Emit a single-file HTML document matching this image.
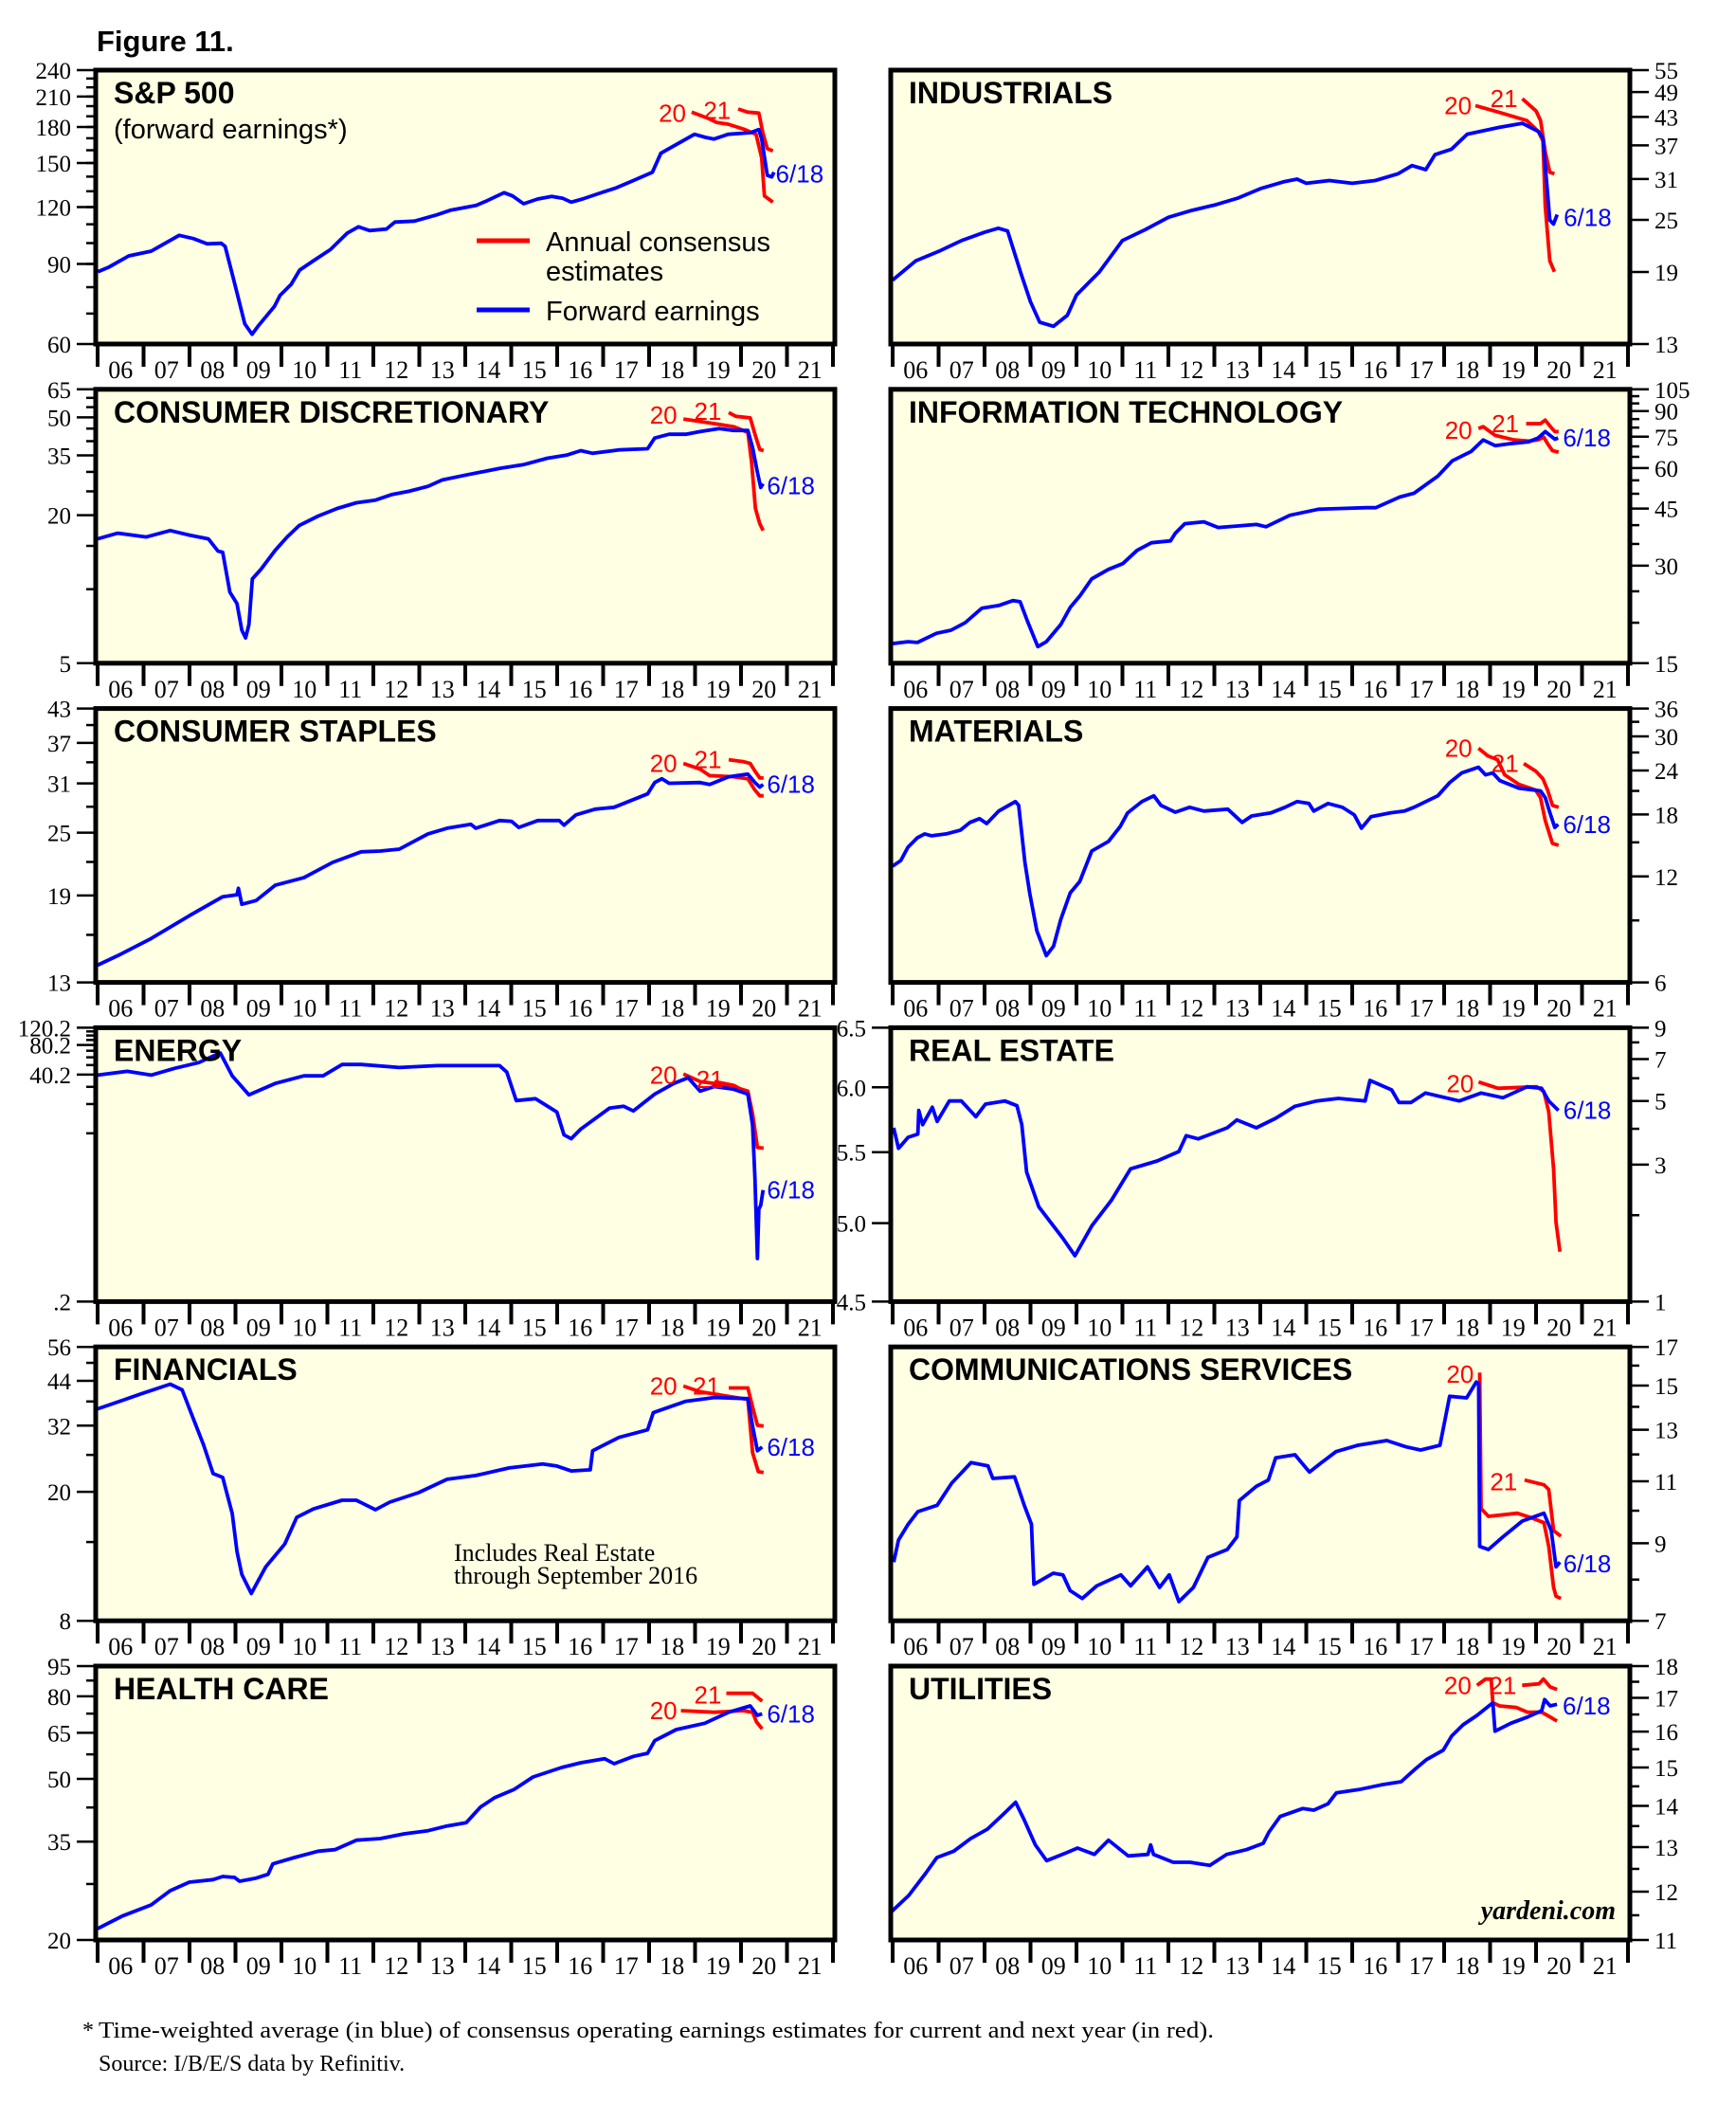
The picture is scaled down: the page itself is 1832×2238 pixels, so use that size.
<!DOCTYPE html>
<html><head><meta charset="utf-8">
<style>
html,body{margin:0;padding:0;background:#fff;}
svg{display:block;}
.ax{font-family:"Liberation Serif",serif;font-size:25px;fill:#000;}
.yr{font-family:"Liberation Serif",serif;font-size:26px;fill:#000;}
.tt{font-family:"Liberation Sans",sans-serif;font-weight:bold;font-size:32px;fill:#000;}
.lb{font-family:"Liberation Sans",sans-serif;font-size:26px;}
.lg{font-family:"Liberation Sans",sans-serif;font-size:29px;fill:#000;}
</style></head>
<body>
<svg id="s" xmlns="http://www.w3.org/2000/svg" width="1832" height="2238" viewBox="0 0 1832 2238">
<text x="102" y="54" class="tt" style="font-size:31px">Figure 11.</text>
<text x="87" y="2150" style="font-family:'Liberation Serif',serif;font-size:24px">*</text>
<text x="104" y="2150" textLength="1177" lengthAdjust="spacingAndGlyphs" style="font-family:'Liberation Serif',serif;font-size:24px">Time-weighted average (in blue) of consensus operating earnings estimates for current and next year (in red).</text>
<text x="104" y="2185" style="font-family:'Liberation Serif',serif;font-size:24px">Source: I/B/E/S data by Refinitiv.</text>
</svg>
<script>
const NS="http://www.w3.org/2000/svg", S=document.getElementById('s');
function el(t,a,txt){const e=document.createElementNS(NS,t);for(const k in a)e.setAttribute(k,a[k]);if(txt!==undefined)e.textContent=txt;S.appendChild(e);return e;}
const H=289, W=780;
function lg(v,a,b){return Math.log(v/a)/Math.log(b/a);}
function panel(p){
  const x0=p.col?940:101, x1=x0+W, top=74+p.row*336.8, bot=top+H;
  el('rect',{x:x0,y:top,width:W,height:H,fill:'#FFFFE3',stroke:'none'});
  let cv;
  if(p.z){const z=p.z;cv=pt=>[z.cx+pt[0]/z.sx, z.cy+pt[1]/z.sy];}
  else{const ix=x0+2;cv=pt=>[ix+(pt[0]-2006)*48.5, top+pt[1]*1.438];}
  const cid='c'+p.row+'_'+p.col;
  const cp=el('clipPath',{id:cid});const r=document.createElementNS(NS,'rect');
  r.setAttribute('x',x0+2);r.setAttribute('y',top+2);r.setAttribute('width',W-4);r.setAttribute('height',H-4);cp.appendChild(r);
  function line(arr,col){if(!arr)return;const d=arr.map(cv).map((q,i)=>(i?'L':'M')+q[0].toFixed(1)+' '+q[1].toFixed(1)).join(' ');
    el('path',{d:d,fill:'none',stroke:col,'stroke-width':3.8,'stroke-linejoin':'round','clip-path':'url(#'+cid+')'});}
  line(p.r20,'#ff0000');line(p.r21,'#ff0000');line(p.b,'#0000ff');
  if(p.L){const L=p.L;
    if(L[0]){const q=cv(L[0]);el('text',{x:q[0],y:q[1]+9,class:'lb',fill:'#ff0000','text-anchor':'end'},'20');}
    if(L[1]){const q=cv(L[1]);el('text',{x:q[0],y:q[1]+9,class:'lb',fill:'#ff0000','text-anchor':L[1][2]||'end'},'21');}
    if(L[2]){const q=cv(L[2]);el('text',{x:q[0],y:q[1]+9,class:'lb',fill:'#0000ff'},'6/18');}
  }
  el('rect',{x:x0,y:top,width:W,height:H,fill:'none',stroke:'#000','stroke-width':5});
  el('text',{x:x0+19,y:top+35,class:'tt'},p.t);
  for(let k=0;k<=16;k++){const x=x0+2+k*48.5;el('line',{x1:x,y1:bot,x2:x,y2:bot+24,stroke:'#000','stroke-width':4});}
  for(let k=0;k<16;k++){const x=x0+2+(k+0.5)*48.5;el('text',{x:x,y:bot+36,class:'yr','text-anchor':'middle'},String(6+k).padStart(2,'0'));}
  (p.ax||[]).forEach(a=>{
    const Y=v=>bot-lg(v,a.min,a.max)*H;
    const left=a.side==='L', bx=left?x0:x1, sg=left?-1:1;
    (a.minor||[]).forEach(v=>{const y=Y(v);el('line',{x1:bx,y1:y,x2:bx+sg*10,y2:y,stroke:'#000','stroke-width':2.5});});
    a.lab.forEach(s=>{const v=parseFloat(s);const y=Y(v);
      el('line',{x1:bx,y1:y,x2:bx+sg*20,y2:y,stroke:'#000','stroke-width':2.5});
      el('text',{x:bx+sg*26,y:y+9,class:'ax','text-anchor':left?'end':'start'},s);});
  });
}
function rng(a,b,s){const r=[];for(let v=a;v<=b+1e-9;v+=s)r.push(+v.toFixed(3));return r;}
const Z1={cx:0,cy:0,sx:1.692,sy:3}, ZL2={cx:99,cy:408,sx:1.985,sy:2.49}, ZR2={cx:938,cy:408,sx:1.985,sy:2.49},
ZL4={cx:99,cy:1083,sx:1.985,sy:2.49}, ZL6={cx:99,cy:1755,sx:1.985,sy:3}, ZRE={cx:938,cy:1080,sx:1.96,sy:3},
ZCS={cx:938,cy:1415,sx:1.96,sy:3}, ZU={cx:899.6,cy:1700,sx:1.684,sy:3};
const panels=[
{row:0,col:0,t:'S&P 500',z:Z1,
 ax:[{side:'L',min:60,max:240,lab:['240','210','180','150','120','90','60'],minor:rng(70,230,10)}],
 b:[[175,860],[195,845],[230,810],[270,795],[290,775],[320,745],[345,755],[370,772],[395,770],[402,780],[415,870],[425,940],[437,1025],[450,1058],[462,1030],[490,970],[500,935],[520,900],[535,855],[560,825],[590,790],[620,738],[640,718],[660,730],[690,725],[705,703],[740,700],[780,680],[805,665],[850,650],[870,635],[900,610],[915,620],[935,645],[960,630],[985,622],[1005,628],[1020,640],[1040,630],[1070,612],[1100,595],[1130,572],[1165,545],[1180,485],[1210,455],[1240,425],[1260,435],[1275,440],[1300,425],[1340,420],[1355,410],[1360,440],[1370,555],[1378,560],[1382,545]],
 r20:[[1235,355],[1265,375],[1280,388],[1300,393],[1330,410],[1350,425],[1360,500],[1365,620],[1380,640]],
 r21:[[1318,345],[1335,355],[1355,358],[1362,420],[1370,470],[1380,478]],
 L:[[1225,358],[1305,350],[1385,550]]},
{row:0,col:1,t:'INDUSTRIALS',
 ax:[{side:'R',min:13,max:55,lab:['55','49','43','37','31','25','19','13']}],
 b:[[2006,154],[2006.5,140],[2007,133],[2007.5,125],[2008,119],[2008.3,116],[2008.5,118],[2008.8,150],[2009,170],[2009.2,185],[2009.5,188],[2009.8,180],[2010,165],[2010.5,148],[2011,125],[2011.5,117],[2012,108],[2012.5,103],[2013,99],[2013.5,94],[2014,87],[2014.5,82],[2014.8,80],[2015,83],[2015.5,81],[2016,83],[2016.5,81],[2017,76],[2017.3,70],[2017.6,73],[2017.8,62],[2018.16,58],[2018.5,47],[2019.2,42],[2019.7,39],[2020.05,45],[2020.15,50],[2020.3,110],[2020.38,113],[2020.46,106]],
 r20:[[2018.68,26],[2019.2,31],[2019.8,37],[2020.05,45],[2020.15,52],[2020.2,100],[2020.3,140],[2020.4,148]],
 r21:[[2019.7,21],[2020.0,30],[2020.1,37],[2020.2,60],[2020.3,75],[2020.4,76]],
 L:[[2018.6,26],[2019.6,21],[2020.6,108]]},
{row:1,col:0,t:'CONSUMER DISCRETIONARY',z:ZL2,
 ax:[{side:'L',min:5,max:65,lab:['65','50','35','20','5'],minor:[10,15,25,30,40,45,55,60]}],
 b:[[8,400],[50,385],[110,395],[160,378],[200,390],[240,400],[260,432],[270,435],[285,540],[300,570],[310,640],[318,660],[325,625],[332,505],[350,480],[380,430],[405,395],[430,365],[470,340],[510,320],[550,305],[590,298],[625,283],[660,275],[700,262],[730,245],[780,232],[850,215],[900,205],[950,188],[990,180],[1020,168],[1045,175],[1100,166],[1160,163],[1175,135],[1205,125],[1240,125],[1270,118],[1310,110],[1340,115],[1370,115],[1380,160],[1390,225],[1397,265],[1402,255]],
 r20:[[1235,85],[1290,95],[1340,105],[1370,120],[1378,200],[1386,320],[1395,360],[1402,378]],
 r21:[[1330,68],[1345,78],[1375,82],[1385,125],[1395,165],[1403,168]],
 L:[[1222,75],[1315,65],[1410,260]]},
{row:1,col:1,t:'INFORMATION TECHNOLOGY',z:ZR2,
 ax:[{side:'R',min:15,max:105,lab:['105','90','75','60','45','30','15'],minor:[20,25,35,40,50,55,65,70,80,85,95,100]}],
 b:[[8,675],[40,670],[60,672],[100,648],[130,640],[160,620],[195,582],[230,575],[260,562],[275,565],[290,615],[312,683],[330,670],[360,625],[380,580],[400,550],[425,505],[460,480],[490,465],[520,430],[550,410],[590,405],[600,385],[620,360],[660,355],[690,370],[740,365],[770,362],[790,368],[840,338],[900,322],[950,320],[1000,318],[1020,318],[1070,290],[1100,280],[1150,235],[1180,195],[1220,170],[1245,140],[1270,155],[1300,150],[1340,145],[1360,135],[1375,118],[1385,128],[1395,138],[1402,135]],
 r20:[[1235,110],[1245,105],[1270,128],[1310,140],[1340,143],[1360,140],[1372,133],[1380,150],[1390,168],[1403,172]],
 r21:[[1335,97],[1365,97],[1375,88],[1388,108],[1395,118],[1403,118]],
 L:[[1222,115],[1320,97],[1412,135]]},
{row:2,col:0,t:'CONSUMER STAPLES',z:ZL2,
 ax:[{side:'L',min:13,max:43,lab:['43','37','31','25','19','13'],minor:[16,22,28,34,40]}],
 b:[[8,1520],[50,1495],[120,1450],[200,1390],[270,1340],[300,1335],[303,1318],[310,1360],[340,1350],[380,1310],[440,1290],[500,1250],[560,1222],[600,1220],[640,1215],[700,1175],[740,1160],[790,1150],[800,1160],[850,1140],[875,1142],[890,1158],[930,1140],[975,1140],[985,1152],[1010,1125],[1050,1110],[1090,1105],[1160,1070],[1175,1040],[1190,1030],[1205,1042],[1270,1040],[1290,1045],[1330,1025],[1370,1018],[1385,1040],[1395,1052],[1402,1045]],
 r20:[[1235,990],[1270,1005],[1290,1022],[1340,1025],[1370,1030],[1385,1060],[1395,1075],[1403,1075]],
 r21:[[1330,980],[1360,985],[1375,990],[1385,1010],[1395,1028],[1403,1028]],
 L:[[1222,990],[1315,980],[1410,1045]]},
{row:2,col:1,t:'MATERIALS',z:ZR2,
 ax:[{side:'R',min:6,max:36,lab:['36','30','24','18','12','6'],minor:[9,15,21,27,33]}],
 b:[[8,1260],[25,1245],[40,1210],[60,1185],[75,1175],[90,1180],[120,1175],[150,1165],[170,1145],[190,1135],[205,1148],[230,1115],[265,1090],[272,1100],[285,1250],[295,1330],[310,1430],[330,1495],[345,1470],[360,1400],[380,1330],[400,1300],[425,1220],[460,1195],[485,1155],[500,1120],[530,1090],[555,1075],[570,1100],[600,1118],[630,1105],[660,1115],[710,1110],[740,1145],[760,1128],[800,1120],[830,1105],[855,1090],[880,1095],[890,1115],[920,1095],[950,1105],[975,1125],[990,1160],[1010,1130],[1050,1120],[1080,1115],[1100,1105],[1150,1075],[1175,1040],[1200,1015],[1235,1000],[1250,1020],[1265,1015],[1280,1035],[1320,1055],[1365,1062],[1375,1080],[1385,1120],[1395,1158],[1402,1150]],
 r20:[[1235,950],[1255,970],[1275,980],[1290,1020],[1320,1045],[1355,1060],[1365,1080],[1375,1140],[1390,1200],[1403,1205]],
 r21:[[1330,990],[1355,1010],[1370,1030],[1380,1060],[1390,1100],[1403,1105]],
 L:[[1222,950],[1262,990,'start'],[1412,1150]]},
{row:3,col:0,t:'ENERGY',z:ZL4,
 ax:[{side:'L',min:0.2,max:120.2,lab:['120.2','80.2','40.2','.2'],minor:[10.2,20.2,30.2,50.2,60.2,70.2,90.2,100.2,110.2]}],
 b:[[8,128],[70,118],[120,128],[170,110],[220,95],[255,75],[265,70],[290,130],[325,180],[380,150],[440,130],[480,130],[520,100],[560,100],[640,108],[720,103],[850,103],[865,120],[885,195],[925,190],[970,225],[985,285],[1000,295],[1020,270],[1080,215],[1110,210],[1130,222],[1175,178],[1215,150],[1245,135],[1270,170],[1300,158],[1340,165],[1370,178],[1380,260],[1385,400],[1390,610],[1393,480],[1397,470],[1402,430]],
 r20:[[1235,125],[1270,145],[1330,155],[1370,170],[1380,230],[1390,318],[1403,320]],
 r21:[[1300,145],[1340,155],[1370,175]],
 L:[[1222,128],[1262,140,'start'],[1410,430]]},
{row:3,col:1,t:'REAL ESTATE',z:ZRE,
 ax:[{side:'L',min:4.5,max:6.5,lab:['6.5','6.0','5.5','5.0','4.5']},{side:'R',min:1,max:9,lab:['9','7','5','3','1'],minor:[2,4,6,8]}],
 b:[[10,330],[20,395],[40,360],[60,350],[62,275],[70,320],[90,265],[100,310],[125,245],[150,245],[180,295],[200,255],[240,245],[265,260],[275,320],[285,470],[310,580],[330,620],[360,680],[385,735],[420,640],[460,560],[500,460],[555,435],[600,405],[615,355],[640,365],[700,330],[720,305],[760,330],[800,300],[840,262],[885,245],[930,237],[985,245],[995,180],[1040,210],[1055,250],[1080,250],[1110,220],[1180,245],[1225,220],[1270,235],[1320,200],[1350,205],[1365,245],[1385,275]],
 r20:[[1220,185],[1260,205],[1340,200],[1355,215],[1365,280],[1375,460],[1380,630],[1388,722]],
 L:[[1210,190],null,[1395,275]]},
{row:4,col:0,t:'FINANCIALS',z:ZL4,
 ax:[{side:'L',min:8,max:56,lab:['56','44','32','20','8'],minor:[14,26,38,50]}],
 b:[[8,1005],[100,965],[160,940],[185,955],[205,1020],[230,1100],[250,1175],[270,1185],[290,1280],[300,1380],[310,1440],[330,1490],[360,1420],[400,1360],[425,1290],[460,1268],[520,1245],[550,1245],[590,1270],[620,1250],[680,1225],[740,1190],[800,1180],[870,1160],[940,1150],[970,1155],[1000,1168],[1040,1165],[1045,1115],[1100,1080],[1160,1060],[1172,1015],[1240,985],[1300,975],[1370,978],[1380,1050],[1390,1115],[1400,1105]],
 r20:[[1235,945],[1270,960],[1320,970],[1370,980],[1380,1120],[1392,1170],[1403,1172]],
 r21:[[1330,950],[1370,950],[1380,1000],[1390,1048],[1403,1050]],
 L:[[1222,945],[1312,945],[1410,1105]]},
{row:4,col:1,t:'COMMUNICATIONS SERVICES',z:ZCS,
 ax:[{side:'R',min:7,max:17,lab:['17','15','13','11','9','7'],minor:[8,10,12,14,16]}],
 b:[[10,700],[20,630],[40,580],[60,540],[100,520],[130,450],[170,385],[205,395],[215,435],[260,430],[280,520],[295,580],[300,770],[340,735],[360,740],[375,790],[400,815],[430,775],[480,740],[500,775],[535,715],[560,780],[580,740],[600,825],[630,780],[660,685],[700,660],[720,620],[725,505],[760,460],[785,440],[800,370],[840,360],[870,415],[895,385],[925,350],[970,330],[1030,315],[1070,335],[1100,345],[1140,330],[1160,175],[1195,180],[1215,130],[1220,135],[1222,650],[1240,660],[1270,620],[1310,570],[1355,545],[1370,600],[1380,715],[1388,700]],
 r20:[[1222,100],[1225,530],[1240,555],[1300,545],[1330,560],[1355,575],[1365,650],[1375,780],[1380,808],[1390,815]],
 r21:[[1315,440],[1355,455],[1365,470],[1375,600],[1390,618]],
 L:[[1210,105],[1300,445],[1395,705]]},
{row:5,col:0,t:'HEALTH CARE',z:ZL6,
 ax:[{side:'L',min:20,max:95,lab:['95','80','65','50','35','20'],minor:[27.5,42.5,57.5,72.5,87.5]}],
 b:[[8,840],[60,800],[120,765],[160,720],[200,693],[250,685],[270,675],[295,678],[305,690],[340,680],[365,668],[375,635],[420,615],[470,595],[505,590],[550,560],[600,555],[650,540],[700,530],[740,515],[780,505],[810,455],[840,425],[880,400],[920,360],[980,330],[1020,315],[1070,302],[1090,318],[1130,295],[1160,285],[1175,245],[1220,210],[1280,190],[1330,155],[1375,135],[1390,165],[1400,160]],
 r20:[[1230,150],[1300,155],[1360,150],[1380,155],[1388,185],[1400,208]],
 r21:[[1325,95],[1380,95],[1400,120]],
 L:[[1222,150],[1315,100],[1410,160]]},
{row:5,col:1,t:'UTILITIES',z:ZU,
 ax:[{side:'R',min:11,max:18,lab:['18','17','16','15','14','13','12','11'],minor:[11.5,12.5,13.5,14.5,15.5,16.5,17.5]}],
 b:[[70,950],[100,900],[130,830],[150,780],[180,760],[210,720],[240,690],[270,640],[290,605],[305,660],[325,740],[345,790],[380,765],[400,750],[430,770],[455,725],[490,775],[525,770],[530,740],[535,770],[570,795],[600,795],[635,805],[665,770],[700,755],[730,735],[740,700],[760,650],[800,625],[820,630],[845,610],[860,575],[900,565],[940,550],[975,540],[1000,500],[1020,470],[1050,440],[1065,395],[1085,360],[1110,330],[1138,290],[1142,380],[1170,355],[1200,335],[1225,315],[1230,280],[1240,300],[1252,295]],
 r20:[[1110,235],[1125,215],[1135,215],[1138,290],[1150,300],[1180,305],[1200,320],[1225,320],[1240,335],[1252,348]],
 r21:[[1190,235],[1220,230],[1228,215],[1240,240],[1252,248]],
 L:[[1100,235],[1180,235],[1262,300]]}
];
panels.forEach(panel);
el('line',{x1:503,y1:254,x2:559,y2:254,stroke:'#ff0000','stroke-width':5});
el('line',{x1:503,y1:327,x2:559,y2:327,stroke:'#0000ff','stroke-width':5});
el('text',{x:576,y:265,class:'lg'},'Annual consensus');
el('text',{x:576,y:296,class:'lg'},'estimates');
el('text',{x:576,y:338,class:'lg'},'Forward earnings');
el('text',{x:120,y:146,class:'lg'},'(forward earnings*)');
el('text',{x:479,y:1647,style:"font-family:'Liberation Serif',serif;font-size:26px"},'Includes Real Estate');
el('text',{x:479,y:1671,style:"font-family:'Liberation Serif',serif;font-size:26px"},'through September 2016');
el('text',{x:1705,y:2025,'text-anchor':'end',style:"font-family:'Liberation Serif',serif;font-size:28px;font-weight:bold;font-style:italic"},'yardeni.com');
</script>
</body></html>
